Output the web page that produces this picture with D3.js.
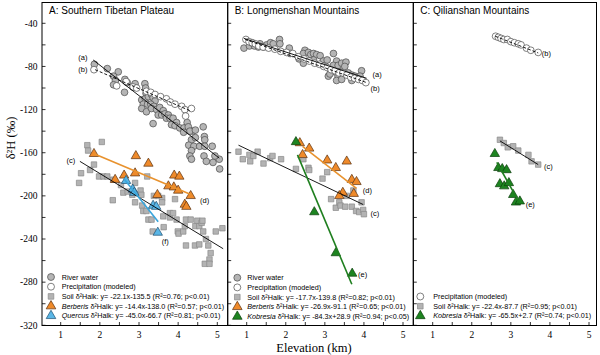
<!DOCTYPE html>
<html><head><meta charset="utf-8">
<script src="https://cdn.jsdelivr.net/npm/d3@7"></script>
<style>body{margin:0;background:#fff}svg{display:block}</style>
</head><body><svg id="c" width="600" height="355"></svg>
<script>
// ---------------- DATA ----------------
const elevTicks = [1, 2, 3, 4, 5];
const dTickLabels = [-40, -80, -120, -160, -200, -240, -280, -320];
const titles = ["A: Southern Tibetan Plateau", "B: Longmenshan Mountains", "C: Qilianshan Mountains"];

// Panel A
const riverA = [[1.86,-78],[2.19,-82],[2.47,-85],[2.35,-89],[2.40,-93],[2.64,-92],[2.70,-95],[2.63,-104],[2.85,-99],[2.90,-96],[2.35,-97],
 [3.15,-96],[3.17,-100],[3.18,-105],[3.07,-111],[3.16,-110],[3.24,-108],[3.32,-106],[3.36,-109],[3.41,-112],[3.11,-115],[3.22,-115],
 [3.30,-115],[3.38,-117],[3.07,-119],[3.19,-122],[3.32,-119],[3.45,-120],[3.53,-118],[3.62,-121],[3.36,-133],[3.49,-125],[3.58,-125],
 [3.66,-124],[3.75,-125],[3.70,-128],[3.79,-128],[3.87,-128],[3.96,-132],[3.83,-134],[3.92,-135],[4.04,-137],[4.15,-137],[4.23,-132],
 [4.26,-136],[4.37,-140],[4.30,-140],[4.14,-141],[4.44,-139],[4.64,-136],[4.34,-148],[4.44,-146],[4.67,-145],[4.68,-148],[4.27,-153],
 [4.40,-154],[4.34,-158],[4.30,-163],[4.34,-166],[4.55,-154],[4.68,-154],[4.87,-154],[4.66,-163],[4.72,-168],[4.89,-169],[5.05,-166],
 [4.94,-163],[5.06,-175]];
const precipA = [[1.85,-83],[2.43,-98],[2.67,-94],[2.85,-99],[2.94,-100],[3.19,-103],[3.30,-104],[3.41,-106],[3.55,-108],[3.70,-110],
 [3.80,-113],[3.92,-115],[4.09,-117],[4.17,-120],[4.34,-119],[4.19,-126]];
const soilA = [[1.68,-153],[1.70,-158],[2.05,-150],[1.85,-171],[1.52,-179],[1.47,-188],[1.75,-176],[1.98,-182],[2.09,-182],[2.19,-182],
 [2.34,-185],[2.33,-204],[2.54,-190],[2.60,-197],[2.71,-196],[2.83,-199],[2.90,-206],[2.90,-188],[3.04,-195],[3.06,-199],[3.08,-209],
 [3.11,-214],[3.19,-214],[3.21,-182],[3.24,-222],[3.32,-222],[3.35,-233],[3.49,-200],[3.59,-202],[3.59,-206],[3.62,-219],[3.63,-229],
 [3.38,-200],[3.79,-216],[3.79,-220],[3.87,-216],[3.92,-203],[3.96,-222],[3.99,-233],[4.01,-235],[4.13,-233],[4.17,-228],[4.20,-222],
 [4.32,-222],[4.20,-246],[4.43,-246],[4.44,-228],[4.54,-228],[4.49,-223],[4.60,-225],[4.62,-223],[4.64,-233],[4.71,-240],[4.54,-245],
 [4.77,-246],[4.83,-253],[4.80,-259],[4.68,-263],[4.80,-263],[4.96,-233],[5.13,-230]];
const berberisA = [[1.85,-161],[2.39,-185],[2.62,-181],[2.90,-179],[2.92,-163],[3.24,-170],[3.47,-199],[3.75,-191],[3.89,-192],
 [3.90,-181],[4.03,-182],[4.00,-195],[4.32,-200],[4.17,-208],[4.21,-210]];
const quercusA = [[2.67,-186],[2.84,-194],[2.88,-197],[3.36,-209],[3.44,-210],[3.48,-234]];

// Panel B
const riverB = [[0.93,-63],[1.07,-61],[1.13,-58],[1.20,-61],[1.30,-62],[1.34,-59],[1.43,-62],[1.51,-60],[1.61,-58],[1.68,-59],[1.84,-55],
 [1.85,-59],[2.09,-63],[2.11,-68],[2.34,-73],[2.41,-71],[2.49,-65],[2.45,-68],[2.58,-67],[2.64,-69],[2.71,-68],[2.79,-69],[2.45,-77],
 [2.71,-74],[2.88,-70],[2.96,-75],[3.00,-79],[3.06,-74],[3.22,-68],[3.30,-75],[3.22,-79],[3.17,-84],[3.34,-79],[3.43,-77],[3.54,-76],
 [3.51,-80],[3.39,-85],[3.26,-85],[3.09,-89],[3.13,-87],[3.34,-89],[3.47,-88],[3.60,-86],[3.69,-88],[3.77,-89],[3.94,-84],[3.90,-89],
 [3.30,-93],[3.43,-92],[3.69,-93]];
const precipB = [[0.98,-55],[1.06,-57],[1.14,-58],[1.22,-59],[1.31,-61],[1.42,-62],[1.56,-63],[1.72,-64],[1.87,-66],[2.02,-67],
 [2.18,-68],[2.32,-71],[2.47,-73],[2.60,-75],[2.74,-77],[2.86,-78],[2.97,-80],[3.06,-81],[3.16,-83],[3.26,-84],[3.36,-86],[3.46,-86],
 [3.56,-88],[3.66,-90],[3.76,-91],[3.86,-92],[3.96,-93],[4.05,-95]];
const soilB = [[0.79,-159],[0.90,-166],[1.07,-162],[1.17,-163],[1.28,-159],[1.09,-168],[1.43,-170],[1.60,-165],[1.66,-163],[1.88,-166],
 [2.26,-175],[2.45,-166],[2.58,-174],[3.06,-178],[2.60,-176],[2.94,-184],[3.16,-203],[3.28,-211],[3.37,-206],[3.40,-209],[3.56,-200],
 [3.52,-210],[3.69,-210],[3.80,-214],[3.88,-215],[3.94,-206],[3.98,-213],[4.00,-217],[3.73,-195]];
const berberisB = [[2.36,-151],[2.60,-156],[2.43,-162],[3.06,-167],[3.28,-174],[3.56,-168],[3.69,-185],[3.81,-187],[3.46,-197],
 [3.37,-200],[3.74,-198]];
const kobresiaB = [[2.26,-150],[2.73,-215],[3.28,-253],[3.70,-272]];

// Panel C
const precipC = [[2.61,-52],[2.68,-53],[2.75,-54],[2.82,-55],[2.91,-55],[3.00,-57],[3.09,-58],[3.19,-59],[3.26,-60],[3.40,-63],[3.51,-65],[3.70,-67]];
const soilC = [[2.72,-148],[2.82,-151],[2.92,-155],[3.06,-154],[3.19,-158],[3.45,-162],[3.53,-168],[3.70,-171]];
const kobresiaC = [[2.59,-161],[2.68,-174],[2.78,-175],[2.89,-176],[2.72,-189],[2.83,-191],[2.95,-188],[3.06,-199],[3.13,-206],[3.23,-205]];

// Fit lines: [x1, y1, x2, y2]
const linesA = {a:[1.83,-74,5.05,-165], b:[1.88,-83,4.30,-121], c:[1.49,-168,5.15,-249], d:[1.85,-161,4.34,-199], f:[2.61,-184,3.49,-224]};
const linesB = {a:[0.93,-54,4.07,-91], b:[0.96,-55,4.07,-95], c:[0.79,-153,3.98,-208], d:[2.43,-154,3.81,-193], e:[2.30,-162,3.69,-282]};
const linesC = {b:[2.60,-52,3.70,-67.5], c:[2.72,-149,3.70,-171], e:[2.64,-169,3.23,-207]};

// line labels: [text, x, y]
const labelsA = [["(a)",1.45,-72],["(b)",1.45,-83],["(c)",1.15,-167],["(d)",4.56,-204],["(f)",3.58,-242]];
const labelsB = [["(a)",4.22,-87],["(b)",4.17,-100],["(d)",3.97,-195],["(c)",4.17,-216],["(e)",3.85,-273]];
const labelsC = [["(b)",3.79,-68],["(c)",3.85,-173],["(e)",3.38,-208]];

const legendA = [["river","","River water"],["precip","","Precipitation (modeled)"],
 ["soil","Soil","δ²Halk: y= -22.1x-135.5 (R²=0.76; p<0.01)"],
 ["berb","Berberis","δ²Halk: y= -14.4x-138.0 (R²=0.57; p<0.01)"],
 ["querc","Quercus","δ²Halk: y= -45.0x-66.7 (R²=0.81; p<0.01)"]];
const legendB = [["river","","River water"],["precip","","Precipitation (modeled)"],
 ["soil","Soil","δ²Halk: y= -17.7x-139.8 (R²=0.82; p<0.01)"],
 ["berb","Berberis","δ²Halk: y= -26.9x-91.1 (R²=0.65; p<0.01)"],
 ["kob","Kobresia","δ²Halk: y= -84.3x+28.9 (R²=0.94; p<0.05)"]];
const legendC = [["precip","","Precipitation (modeled)"],
 ["soil","Soil","δ²Halk: y= -22.4x-87.7 (R²=0.95; p<0.01)"],
 ["kob","Kobresia","δ²Halk: y= -65.5x+2.7 (R²=0.74; p<0.01)"]];

// ---------------- STYLES ----------------
const sty = {
  river: {shape:d3.symbolCircle, size:36, fill:"#b5b5b5", stroke:"#4a4a4a"},
  precip:{shape:d3.symbolCircle, size:36, fill:"#ffffff", stroke:"#4a4a4a"},
  soil:  {shape:d3.symbolSquare, size:30, fill:"#b3b3b3", stroke:"#8a8a8a"},
  berb:  {shape:d3.symbolTriangle, size:38, fill:"#ef8a2a", stroke:"#5a3010"},
  querc: {shape:d3.symbolTriangle, size:38, fill:"#5ab6e6", stroke:"#1e4f70"},
  kob:   {shape:d3.symbolTriangle, size:38, fill:"#1d8420", stroke:"#0b3d0c"}
};
const lineSty = {
  a:{c:"#000", w:0.9, dash:null}, b:{c:"#000", w:0.9, dash:"3,2"}, c:{c:"#000", w:0.9, dash:null},
  d:{c:"#e8922e", w:1.6, dash:null}, f:{c:"#3aa6dc", w:1.6, dash:null}, e:{c:"#1f7f1f", w:1.6, dash:null}
};

const svg = d3.select("#c");
const yS = d3.scaleLinear().domain([-320,-40]).range([325.3,23.3]);
const topY = 2.5, botY = 325.5;

const panels = [
  {title:titles[0], left:42, right:227.7, x:d3.scaleLinear().domain([1,5]).range([60.7,217.3]),
   series:[["river",riverA],["precip",precipA],["soil",soilA],["berb",berberisA],["querc",quercusA]],
   lines:linesA, labels:labelsA, legend:legendA, legX:9, legTx:19.7, legY0:277, yLabels:true},
  {title:titles[1], left:227.7, right:413.3, x:d3.scaleLinear().domain([1,5]).range([246.7,403]),
   series:[["river",riverB],["precip",precipB],["soil",soilB],["berb",berberisB],["kob",kobresiaB]],
   lines:linesB, labels:labelsB, legend:legendB, legX:9.6, legTx:19.6, legY0:277.7, yLabels:false},
  {title:titles[2], left:413.3, right:596.5, x:d3.scaleLinear().domain([1,5]).range([432.7,589]),
   series:[["precip",precipC],["soil",soilC],["kob",kobresiaC]],
   lines:linesC, labels:labelsC, legend:legendC, legX:7, legTx:20, legY0:296.5, yLabels:false}
];

panels.forEach(p => {
  const g = svg.append("g");
  const xs = p.x;
  const cid = "clip" + Math.round(p.left);
  svg.append("clipPath").attr("id", cid).append("rect")
    .attr("x", p.left).attr("y", topY).attr("width", p.right-p.left).attr("height", botY-topY);
  const inner = g.append("g").attr("clip-path", `url(#${cid})`);

  // points
  p.series.forEach(([k, data]) => {
    const s = sty[k];
    inner.append("g").selectAll("path").data(data).enter().append("path")
      .attr("d", d3.symbol().type(s.shape).size(s.size))
      .attr("transform", d => `translate(${xs(d[0])},${yS(d[1])})`)
      .attr("fill", s.fill).attr("stroke", s.stroke).attr("stroke-width", 0.7);
  });
  // lines
  Object.entries(p.lines).forEach(([k, L]) => {
    const ls = lineSty[k];
    inner.append("line")
      .attr("x1", xs(L[0])).attr("y1", yS(L[1])).attr("x2", xs(L[2])).attr("y2", yS(L[3]))
      .attr("stroke", ls.c).attr("stroke-width", ls.w).attr("stroke-dasharray", ls.dash);
  });
  // labels
  const lg = g.append("g").attr("fill", "#000");
  lg.selectAll("text").data(p.labels).enter().append("text")
    .attr("x", d => xs(d[1])).attr("y", d => yS(d[2])).attr("dy", "0.35em")
    .attr("fill", "#000")
    .attr("font-family", "Liberation Sans, Arial, sans-serif").attr("font-size", 7.5)
    .text(d => d[0]);

  // frame
  g.append("rect").attr("x", p.left).attr("y", topY).attr("width", p.right-p.left).attr("height", botY-topY)
    .attr("fill", "none").attr("stroke", "#000").attr("stroke-width", 1);

  // y ticks (every 20, inward from left)
  const yt = d3.range(-320, -20, 20);
  g.append("g").selectAll("line").data(yt).enter().append("line")
    .attr("x1", p.left).attr("x2", p.left+3.5).attr("y1", d => yS(d)).attr("y2", d => yS(d))
    .attr("stroke", "#000").attr("stroke-width", 0.8);
  // x ticks every 0.5, inward from bottom
  const xt = d3.range(1, 5.01, 0.5);
  g.append("g").selectAll("line").data(xt).enter().append("line")
    .attr("x1", d => xs(d)).attr("x2", d => xs(d)).attr("y1", botY).attr("y2", botY-3.5)
    .attr("stroke", "#000").attr("stroke-width", 0.8);
  // x tick labels
  g.append("g").selectAll("text").data(elevTicks).enter().append("text")
    .attr("x", d => xs(d)).attr("y", 337.5).attr("text-anchor", "middle").attr("fill", "#000")
    .attr("font-family", "Liberation Serif, Times New Roman, serif").attr("font-size", 9.5)
    .text(d => d);
  if (p.yLabels) {
    g.append("g").selectAll("text").data(dTickLabels).enter().append("text")
      .attr("x", 37.5).attr("y", d => yS(d)).attr("dy", "0.35em").attr("text-anchor", "end").attr("fill", "#000")
      .attr("font-family", "Liberation Serif, Times New Roman, serif").attr("font-size", 9.5)
      .text(d => d);
  }
  // title
  g.append("text").attr("x", p.left + 7).attr("y", 14).attr("fill", "#000")
    .attr("font-family", "Liberation Sans, Arial, sans-serif").attr("font-size", 10)
    .text(p.title);
  // legend
  p.legend.forEach((row, i) => {
    const y = p.legY0 + i * 9.7;
    const s = sty[row[0]];
    g.append("path").attr("d", d3.symbol().type(s.shape).size(s.size*1.05)())
      .attr("transform", `translate(${p.left + p.legX},${y})`)
      .attr("fill", s.fill).attr("stroke", s.stroke).attr("stroke-width", 0.7);
    const t = g.append("text").attr("x", p.left + p.legTx).attr("y", y).attr("dy", "0.35em").attr("fill", "#000")
      .attr("font-family", "Liberation Sans, Arial, sans-serif").attr("font-size", 7.2);
    if (row[1]) {
      t.append("tspan").attr("font-style", row[1] === "Soil" ? "normal" : "italic").text(row[1]);
      t.append("tspan").text(" " + row[2]);
    } else {
      t.text(row[2]);
    }
  });
});

// axis titles
svg.append("text").attr("x", 314).attr("y", 352).attr("text-anchor", "middle").attr("fill", "#000")
  .attr("font-family", "Liberation Serif, Times New Roman, serif").attr("font-size", 12.5)
  .text("Elevation (km)");
svg.append("text").attr("transform", "translate(15,138) rotate(-90)").attr("text-anchor", "middle").attr("fill", "#000")
  .attr("font-family", "Liberation Serif, Times New Roman, serif").attr("font-size", 12.5)
  .text("δ²H (‰)");
</script>
</body></html>
